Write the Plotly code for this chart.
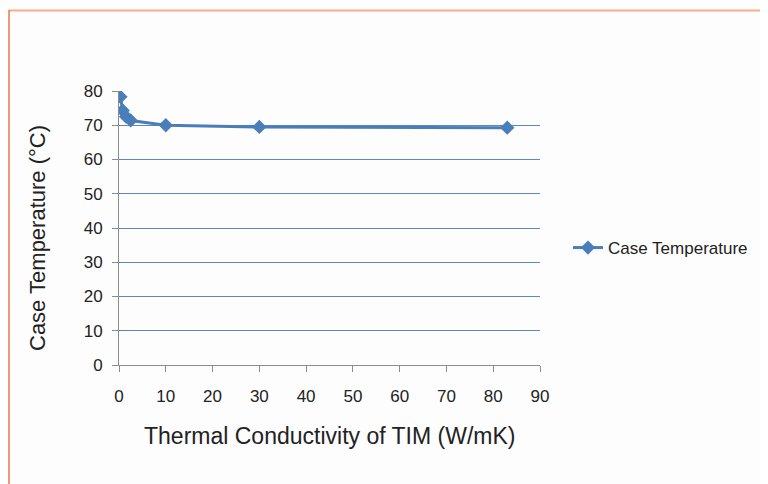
import plotly.graph_objects as go

conductivity = [0.3, 0.8, 1.5, 2.5, 10, 30, 83]
case_temp = [78.3, 74.3, 72.5, 71.4, 70.0, 69.5, 69.3]

x_ticks = [0, 10, 20, 30, 40, 50, 60, 70, 80, 90]
y_ticks = [0, 10, 20, 30, 40, 50, 60, 70, 80]

OFF = 8  # page body margin
W, H = 768 - OFF, 484 - OFF
L, R, T, B = 119 - OFF, 228, 91 - OFF, 119
pw, ph = W - L - R, H - T - B

def px_x(p):
    return (p - OFF - L) / pw

def px_y(p):
    return (H - B - (p - OFF)) / ph

fig = go.Figure()
fig.add_trace(go.Scatter(
    x=conductivity, y=case_temp, mode="lines+markers",
    name="Case Temperature",
    line=dict(color="#4A7EBB", width=3),
    marker=dict(symbol="diamond", size=11, color="#4A7EBB"),
))

fig.update_layout(
    width=W, height=H,
    margin=dict(l=L, r=R, t=T, b=B),
    paper_bgcolor="#FDFDFD", plot_bgcolor="#FDFDFD",
    font=dict(family="Liberation Sans, Arial, sans-serif", color="#222222", size=17),
    showlegend=True,
    legend=dict(x=px_x(568), y=px_y(248), xanchor="left", yanchor="middle",
                bgcolor="rgba(0,0,0,0)", font=dict(size=17)),
    xaxis=dict(range=[0, 90], tickvals=x_ticks, showgrid=False, zeroline=False,
               showline=True, linecolor="#8C8C8C", linewidth=1,
               ticks="outside", ticklen=6, tickcolor="#8C8C8C",
               ticklabelstandoff=10, tickfont=dict(size=17)),
    yaxis=dict(range=[0, 80], tickvals=y_ticks, showgrid=True, gridcolor="#5B88C2",
               gridwidth=1, zeroline=False,
               showline=True, linecolor="#8C8C8C", linewidth=1,
               ticks="outside", ticklen=6, tickcolor="#8C8C8C",
               ticklabelstandoff=6, tickfont=dict(size=17)),
    annotations=[
        dict(text="Thermal Conductivity of TIM (W/mK)", xref="paper", yref="paper",
             x=px_x(329), y=px_y(436), showarrow=False, font=dict(size=23),
             xanchor="center", yanchor="middle"),
        dict(text="Case Temperature (°C)", xref="paper", yref="paper",
             x=px_x(37), y=px_y(238), showarrow=False, font=dict(size=22),
             textangle=-90, xanchor="center", yanchor="middle"),
    ],
    shapes=[
        dict(type="line", xref="paper", yref="paper",
             x0=px_x(9), x1=px_x(770), y0=px_y(10.5), y1=px_y(10.5),
             line=dict(color="#F4B08A", width=2)),
        dict(type="line", xref="paper", yref="paper",
             x0=px_x(9), x1=px_x(9), y0=px_y(10), y1=px_y(486),
             line=dict(color="#E8794A", width=1.5)),
    ],
)

fig.write_html("out.html")
